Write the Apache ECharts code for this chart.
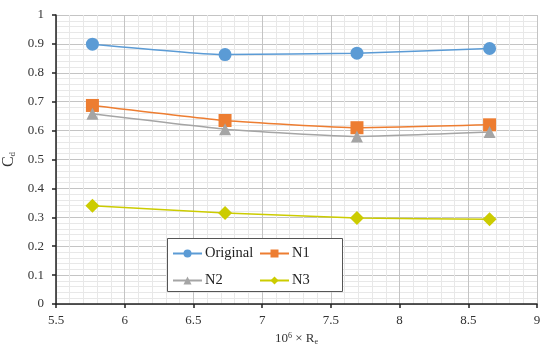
<!DOCTYPE html>
<html><head><meta charset="utf-8">
<script src="https://cdn.jsdelivr.net/npm/echarts@6/dist/echarts.min.js"></script>
<style>html,body{margin:0;padding:0;background:#fff}#c{width:550px;height:349px}</style>
</head><body><div id="c"></div>
<script>
var reynolds = [5.765, 6.73, 7.69, 8.655];
var seriesNames = ['Original', 'N1', 'N2', 'N3'];
var original = [0.899, 0.863, 0.868, 0.884];
var n1 = [0.687, 0.635, 0.610, 0.620];
var n2 = [0.658, 0.605, 0.580, 0.595];
var n3 = [0.340, 0.315, 0.298, 0.293];
var xTicks = [5.5, 6, 6.5, 7, 7.5, 8, 8.5, 9];
var yTicks = [0, 0.1, 0.2, 0.3, 0.4, 0.5, 0.6, 0.7, 0.8, 0.9, 1];

var FONT = '"Liberation Serif","DejaVu Serif",serif';
var colors = ['#5b9bd5', '#ed7d31', '#a5a5a5', '#cccc00'];
var symbols = ['circle', 'rect', 'triangle', 'diamond'];
var sizes = [13, 13, 12, 14];
var values = [original, n1, n2, n3];

function pairs(v){ return reynolds.map(function(x,i){ return [x, v[i]]; }); }

var chart = echarts.init(document.getElementById('c'), null, {renderer:'canvas'});
var series = seriesNames.map(function(n, i){
  return {
    name: n, type: 'line', data: pairs(values[i]),
    smooth: 0.15,
    symbol: symbols[i], symbolSize: sizes[i],
    itemStyle: {color: colors[i]},
    lineStyle: {color: colors[i], width: 1.5},
    emphasis: {disabled: true},
    z: 3
  };
});
var legendCommon = {
  orient: 'vertical', itemWidth: 29, itemHeight: 10, itemGap: 12, z: 10,
  textStyle: {fontFamily: FONT, fontSize: 14.5, color: '#222', padding: [0,0,0,-2]},
  selectedMode: false, padding: 0
};
chart.setOption({
  animation: false,
  backgroundColor: '#fff',
  grid: {left: 56, right: 13, top: 15, bottom: 45, containLabel: false, outerBoundsMode: 'none'},
  xAxis: {
    type: 'value', min: 5.5, max: 9, interval: 0.5,
    name: '10{sup|6} × R{sub|e}', nameLocation: 'middle', nameGap: 26,
    nameTextStyle: {fontFamily: FONT, fontSize: 13, color: '#333',
      rich: {sup: {fontSize: 8, verticalAlign: 'top', padding:[0,0,6,0], fontFamily: FONT, color:'#333'},
             sub: {fontSize: 8, verticalAlign: 'bottom', padding:[5,0,0,0], fontFamily: FONT, color:'#333'}}},
    axisLine: {show: true, lineStyle: {color: '#222', width: 1.5}},
    axisTick: {show: true, length: 4, inside: false, lineStyle: {color: '#222', width: 1.5}},
    axisLabel: {fontFamily: FONT, fontSize: 13, color: '#333', margin: 10,
      formatter: function(v){ return xTicks.indexOf(v) >= 0 ? String(v) : ''; }},
    splitLine: {show: true, lineStyle: {color: '#c4c4c4', width: 1}},
    minorTick: {show: false, splitNumber: 5},
    minorSplitLine: {show: true, lineStyle: {color: '#e8e8e8', width: 1}}
  },
  yAxis: {
    type: 'value', min: 0, max: 1, interval: 0.1,
    name: 'C{sub|d}', nameLocation: 'middle', nameGap: 32, nameRotate: 90,
    nameTextStyle: {fontFamily: FONT, fontSize: 16, color: '#333',
      rich: {sub: {fontSize: 9, verticalAlign: 'bottom', padding:[6,0,0,0], fontFamily: FONT, color:'#333'}}},
    axisLine: {show: true, lineStyle: {color: '#222', width: 1.5}},
    axisTick: {show: true, length: 4, inside: false, lineStyle: {color: '#222', width: 1.5}},
    axisLabel: {fontFamily: FONT, fontSize: 13, color: '#333', margin: 12,
      formatter: function(v){ var t = yTicks.filter(function(k){return Math.abs(k-v)<1e-9;}); return t.length ? String(t[0]) : ''; }},
    splitLine: {show: true, lineStyle: {color: '#c4c4c4', width: 1}},
    minorTick: {show: false, splitNumber: 5},
    minorSplitLine: {show: true, lineStyle: {color: '#e8e8e8', width: 1}}
  },
  legend: [
    Object.assign({}, legendCommon, {left: 172, top: 246, data: ['Original', 'N2']}),
    Object.assign({}, legendCommon, {left: 259, top: 246, data: ['N1', 'N3']})
  ],
  graphic: [{
    type: 'rect', z: 4, zlevel: 0, silent: true,
    shape: {x: 167.5, y: 238.5, width: 175, height: 53},
    style: {fill: '#fff', stroke: '#555', lineWidth: 1}
  }],
  series: series
});
</script></body></html>
